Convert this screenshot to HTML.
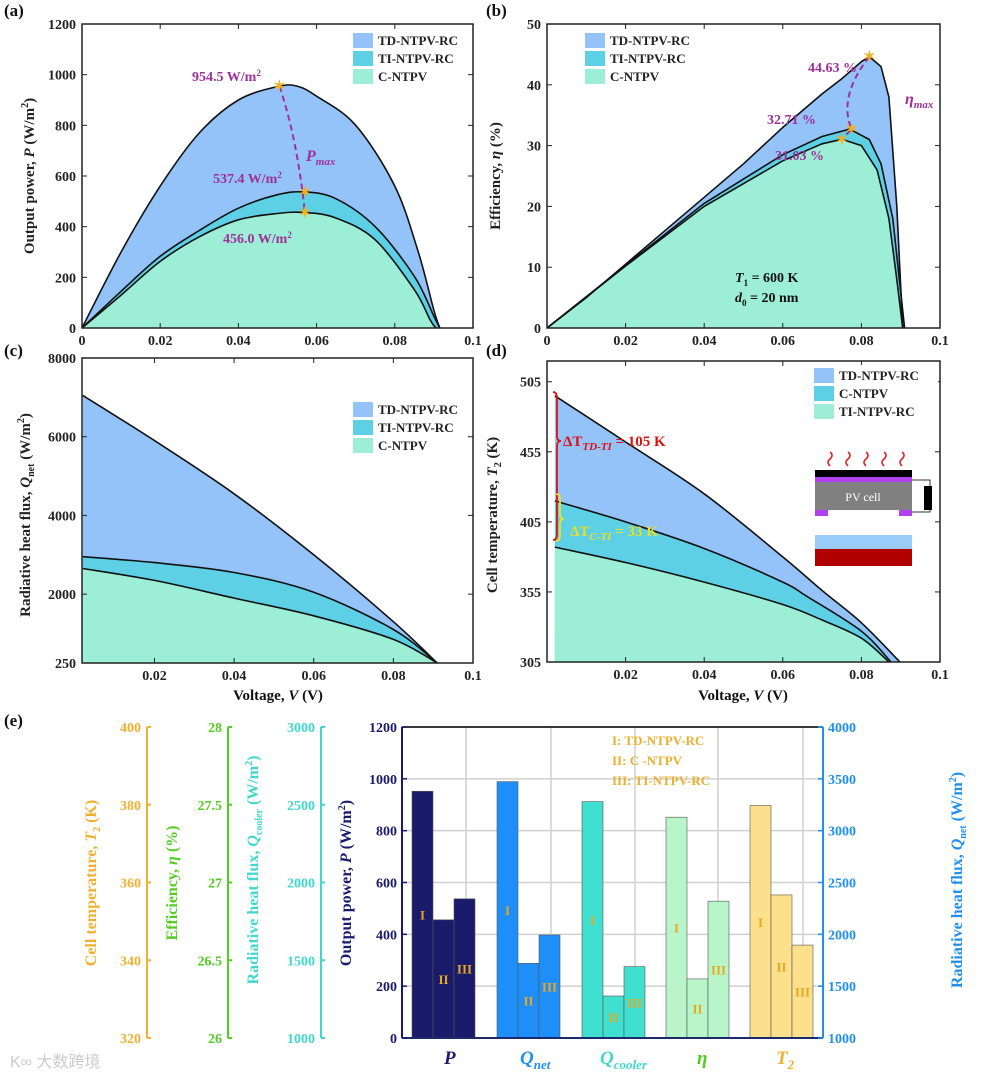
<!DOCTYPE html>
<html><head><meta charset="utf-8"><style>
body{margin:0;background:#fff}
svg{display:block;font-family:"Liberation Serif",serif;font-weight:bold}
</style></head><body>
<svg id="fig" width="983" height="1082" viewBox="0 0 983 1082" xmlns="http://www.w3.org/2000/svg"></svg>
<script>
// ---------- data ----------
const aV_TD=[0,0.01,0.02,0.03,0.04,0.05,0.055,0.06,0.07,0.08,0.086,0.09,0.0915];
const aP_TD=[0,300,560,770,900,953,955,915,800,560,300,70,0];
const aV_TI=[0,0.01,0.02,0.03,0.04,0.05,0.057,0.065,0.075,0.085,0.09,0.0915];
const aP_TI=[0,145,283,385,473,526,537,510,400,204,46,0];
const aV_C=[0,0.01,0.02,0.03,0.04,0.05,0.057,0.065,0.075,0.085,0.089,0.0905];
const aP_C=[0,130,263,360,427,452,456,434,348,151,33,0];
const bV_TD=[0,0.01,0.02,0.03,0.04,0.05,0.06,0.07,0.075,0.08,0.082,0.085,0.087,0.089,0.0905];
const bE_TD=[0,5,10.5,16,21.5,27,33,38.5,41,43.8,44.63,43,38,20,0];
const bV_TI=[0,0.02,0.04,0.06,0.07,0.077,0.082,0.085,0.088,0.091];
const bE_TI=[0,10.3,20.5,28.5,31.5,32.71,31,27,18,0];
const bV_C=[0,0.02,0.04,0.06,0.07,0.075,0.08,0.084,0.087,0.089,0.0905];
const bE_C=[0,10.2,20,27.5,30.3,31.03,30,26,18,8,0];
const cV_TD=[0.002,0.02,0.04,0.06,0.08,0.091];
const cQ_TD=[7050,5900,4550,3000,1300,250];
const cV_TI=[0.002,0.02,0.04,0.06,0.08,0.091];
const cQ_TI=[2950,2800,2550,2050,1100,250];
const cV_C=[0.002,0.02,0.04,0.06,0.08,0.091];
const cQ_C=[2650,2350,1900,1450,850,250];
const dV_TD=[0.002,0.02,0.04,0.06,0.07,0.08,0.0898];
const dT_TD=[495,462,425,380,356,333,305];
const dV_C=[0.002,0.02,0.04,0.06,0.066,0.08,0.0875];
const dT_C=[420,405,386,362,352,327,305];
const dV_TI=[0.002,0.02,0.04,0.06,0.07,0.08,0.087];
const dT_TI=[387,376,362,346,335,322,305];
const eGroups=["P","Qnet","Qcooler","eta","T2"];
const eP=[952,456,537];
const eQnet=[3473,1720,1994];
const eQcool=[2520,1270,1459];
const eEta=[27.42,26.38,26.88];
const eT2=[379.8,356.8,343.9];
const xTicks=[0,0.02,0.04,0.06,0.08,0.1];
const xTicksC=[0.02,0.04,0.06,0.08,0.1];
const aYTicks=[0,200,400,600,800,1000,1200];
const bYTicks=[0,10,20,30,40,50];
const cYTicks=[250,2000,4000,6000,8000];
const dYTicks=[305,355,405,455,505];
const ePTicks=[0,200,400,600,800,1000,1200];
const eQTicks=[1000,1500,2000,2500,3000,3500,4000];
const eCoolTicks=[1000,1500,2000,2500,3000];
const eEtaTicks=[26,26.5,27,27.5,28];
const eT2Ticks=[320,340,360,380,400];

// ---------- helpers ----------
const NS="http://www.w3.org/2000/svg";
const svg=document.getElementById('fig');
function el(tag,attrs,parent,text){const e=document.createElementNS(NS,tag);for(const k in attrs)e.setAttribute(k,attrs[k]);if(text!==undefined)e.textContent=text;(parent||svg).appendChild(e);return e;}
function lin(d0,d1,r0,r1){return v=>r0+(v-d0)/(d1-d0)*(r1-r0);}
const COL_TD="#93c3f8",COL_TI="#5dd0e6",COL_C="#9deed6";

function curve(xs,ys,sx,sy,smooth){
  const P=xs.map((x,i)=>[sx(x),sy(ys[i])]);
  let d="";
  if(!smooth){P.forEach((p,i)=>{d+=(i?" L":"")+p[0].toFixed(1)+","+p[1].toFixed(1);});return d;}
  d=P[0][0].toFixed(1)+","+P[0][1].toFixed(1);
  for(let i=0;i<P.length-1;i++){const p0=P[Math.max(i-1,0)],p1=P[i],p2=P[i+1],p3=P[Math.min(i+2,P.length-1)];
    const t=1/6;const c1=[p1[0]+(p2[0]-p0[0])*t,p1[1]+(p2[1]-p0[1])*t],c2=[p2[0]-(p3[0]-p1[0])*t,p2[1]-(p3[1]-p1[1])*t];
    d+=` C${c1[0].toFixed(1)},${c1[1].toFixed(1)} ${c2[0].toFixed(1)},${c2[1].toFixed(1)} ${p2[0].toFixed(1)},${p2[1].toFixed(1)}`;}
  return d;}
function areaPath(xs,ys,sx,sy,y0,sm){return "M"+sx(xs[0])+","+y0+" L"+curve(xs,ys,sx,sy,sm)+" L"+sx(xs[xs.length-1])+","+y0+"Z";}
function linePath(xs,ys,sx,sy,sm){return "M"+curve(xs,ys,sx,sy,sm);}

function frame(g,x0,x1,y0,y1,sx,sy,xt,yt,xfmt,yfmt,showX){
  const f=el('rect',{x:x0,y:y0,width:x1-x0,height:y1-y0,fill:"none",stroke:"#222","stroke-width":1.5},g);
  
  
  xt.forEach(v=>{const X=sx(v);
    el('line',{x1:X,x2:X,y1:y1,y2:y1-5,stroke:"#222"},g);el('line',{x1:X,x2:X,y1:y0,y2:y0+5,stroke:"#222"},g);
    if(showX){const t=el('text',{x:X,y:y1+17,"text-anchor":"middle","font-size":14,fill:"#222"},g,xfmt(v));}});
  yt.forEach(v=>{const Y=sy(v);
    el('line',{x1:x0,x2:x0+5,y1:Y,y2:Y,stroke:"#222"},g);el('line',{x1:x1,x2:x1-5,y1:Y,y2:Y,stroke:"#222"},g);
    const t=el('text',{x:x0-6,y:Y+5,"text-anchor":"end","font-size":14,fill:"#222"},g,yfmt(v));});
}
function legend(g,x,y,items){items.forEach((it,i)=>{
  const r=el('rect',{x:x,y:y+i*18-7,width:20,height:15,fill:it[1]},g);
  const t=el('text',{x:x+25,y:y+i*18+5,"font-size":13,fill:"#222"},g,it[0]);});}
function vtitle(g,x,y,html,color,size){const t=el('text',{x:0,y:0,transform:`translate(${x},${y}) rotate(-90)`,"text-anchor":"middle","font-size":size||15,fill:color||"#222"},g);t.innerHTML=html;return t;}
function star(g,x,y){const s=el('text',{x:x,y:y+5,"text-anchor":"middle","font-size":15,fill:"#f0b020"},g,"✶");}
const fx=v=>v===0?"0":(v===0.1?"0.1":v.toFixed(2));

function panelLabel(x,y,t){const e=el('text',{x:x,y:y,"font-size":17,fill:"#111"},svg,t);}

// ---------- panel a ----------
(function(){
 const g=el('g',{});  
 const x0=82,x1=473,y0=24,y1=328;const sx=lin(0,0.1,x0,x1),sy=lin(0,1200,y1,y0);
 [[aV_TD,aP_TD,COL_TD],[aV_TI,aP_TI,COL_TI],[aV_C,aP_C,COL_C]].forEach(s=>{const p=el('path',{d:areaPath(s[0],s[1],sx,sy,y1,true),fill:s[2]},g);});
 [[aV_TD,aP_TD],[aV_TI,aP_TI],[aV_C,aP_C]].forEach(s=>el('path',{d:linePath(s[0],s[1],sx,sy,true),fill:"none",stroke:"#111","stroke-width":1.6},g));
 frame(g,x0,x1,y0,y1,sx,sy,xTicks,aYTicks,fx,v=>v,true);
 legend(g,353,40,[["TD-NTPV-RC",COL_TD],["TI-NTPV-RC",COL_TI],["C-NTPV",COL_C]]);
 vtitle(g,34,176,'Output power, <tspan font-style="italic">P</tspan> (W/m<tspan dy="-6" font-size="10">2</tspan><tspan dy="6">)</tspan>');
 el('path',{d:`M${sx(0.0505)},${sy(954.5)} Q${sx(0.055)},${sy(750)} ${sx(0.057)},${sy(456)}`,fill:"none",stroke:"#a0309a","stroke-width":2,"stroke-dasharray":"6,4"},g);
 star(g,sx(0.0505),sy(954.5));star(g,sx(0.057),sy(537.4));star(g,sx(0.057),sy(456));
 const c="#a0309a";
 el('text',{x:192,y:81,"font-size":14,fill:c},g).innerHTML='954.5 W/m<tspan dy="-5" font-size="9">2</tspan>';
 el('text',{x:213,y:183,"font-size":14,fill:c},g).innerHTML='537.4 W/m<tspan dy="-5" font-size="9">2</tspan>';
 el('text',{x:223,y:243,"font-size":14,fill:c},g).innerHTML='456.0 W/m<tspan dy="-5" font-size="9">2</tspan>';
 el('text',{x:306,y:161,"font-size":16,fill:c,"font-style":"italic"},g).innerHTML='P<tspan dy="4" font-size="11">max</tspan>';
})();
panelLabel(4,16,"(a)");

// ---------- panel b ----------
(function(){
 const g=el('g',{});  
 const x0=547,x1=940,y0=24,y1=328;const sx=lin(0,0.1,x0,x1),sy=lin(0,50,y1,y0);
 [[bV_TD,bE_TD,COL_TD],[bV_TI,bE_TI,COL_TI],[bV_C,bE_C,COL_C]].forEach(s=>{const p=el('path',{d:areaPath(s[0],s[1],sx,sy,y1,false),fill:s[2]},g);});
 [[bV_TD,bE_TD],[bV_TI,bE_TI],[bV_C,bE_C]].forEach(s=>el('path',{d:linePath(s[0],s[1],sx,sy,false),fill:"none",stroke:"#111","stroke-width":1.6},g));
 frame(g,x0,x1,y0,y1,sx,sy,xTicks,bYTicks,fx,v=>v,true);
 legend(g,585,40,[["TD-NTPV-RC",COL_TD],["TI-NTPV-RC",COL_TI],["C-NTPV",COL_C]]);
 vtitle(g,500,176,'Efficiency, <tspan font-style="italic">η</tspan> (%)');
 const c="#a0309a";
 el('path',{d:`M${sx(0.082)},${sy(44.63)} Q${sx(0.074)},${sy(38)} ${sx(0.0775)},${sy(32.71)} L${sx(0.075)},${sy(31.03)}`,fill:"none",stroke:c,"stroke-width":2,"stroke-dasharray":"6,4"},g);
 star(g,sx(0.082),sy(44.63));star(g,sx(0.0775),sy(32.71));star(g,sx(0.075),sy(31.03));
 el('text',{x:808,y:72,"font-size":14,fill:c},g,"44.63 %");
 el('text',{x:767,y:124,"font-size":14,fill:c},g,"32.71 %");
 el('text',{x:775,y:160,"font-size":14,fill:c},g,"31.03 %");
 el('text',{x:905,y:104,"font-size":16,fill:c,"font-style":"italic"},g).innerHTML='η<tspan dy="4" font-size="11">max</tspan>';
 el('text',{x:735,y:282,"font-size":14,fill:"#111"},g).innerHTML='<tspan font-style="italic">T</tspan><tspan dy="4" font-size="9">1</tspan><tspan dy="-4"> = 600 K</tspan>';
 el('text',{x:735,y:302,"font-size":14,fill:"#111"},g).innerHTML='<tspan font-style="italic">d</tspan><tspan dy="4" font-size="9">0</tspan><tspan dy="-4"> = 20 nm</tspan>';
})();
panelLabel(486,16,"(b)");

// ---------- panel c ----------
(function(){
 const g=el('g',{});  
 const x0=82,x1=473,y0=358,y1=663;const sx=lin(0.0018,0.1,x0,x1),sy=lin(250,8000,y1,y0);
 [[cV_TD,cQ_TD,COL_TD],[cV_TI,cQ_TI,COL_TI],[cV_C,cQ_C,COL_C]].forEach(s=>{const p=el('path',{d:areaPath(s[0],s[1],sx,sy,y1,true),fill:s[2]},g);});
 [[cV_TD,cQ_TD],[cV_TI,cQ_TI],[cV_C,cQ_C]].forEach(s=>el('path',{d:linePath(s[0],s[1],sx,sy,true),fill:"none",stroke:"#111","stroke-width":1.6},g));
 frame(g,x0,x1,y0,y1,sx,sy,xTicksC,cYTicks,fx,v=>v,true);
 legend(g,353,409,[["TD-NTPV-RC",COL_TD],["TI-NTPV-RC",COL_TI],["C-NTPV",COL_C]]);
 vtitle(g,30,515,'Radiative heat flux, <tspan font-style="italic">Q</tspan><tspan dy="4" font-size="10">net</tspan><tspan dy="-4"> (W/m</tspan><tspan dy="-6" font-size="10">2</tspan><tspan dy="6">)</tspan>');
 el('text',{x:278,y:700,"text-anchor":"middle","font-size":15,fill:"#111"},g).innerHTML='Voltage, <tspan font-style="italic">V</tspan> (V)';
})();
panelLabel(4,356,"(c)");

// ---------- panel d ----------
(function(){
 const g=el('g',{});  
 const x0=547,x1=940,y0=361,y1=662;const sx=lin(0,0.1,x0,x1),sy=lin(305,519.8,y1,y0);
 [[dV_TD,dT_TD,COL_TD],[dV_C,dT_C,COL_TI],[dV_TI,dT_TI,COL_C]].forEach(s=>{const p=el('path',{d:areaPath(s[0],s[1],sx,sy,y1,true),fill:s[2]},g);});
 [[dV_TD,dT_TD],[dV_C,dT_C],[dV_TI,dT_TI]].forEach(s=>el('path',{d:linePath(s[0],s[1],sx,sy,true),fill:"none",stroke:"#111","stroke-width":1.6},g));
 frame(g,x0,x1,y0,y1,sx,sy,xTicksC,dYTicks,fx,v=>v,true);
 el('rect',{x:810,y:365,width:128,height:60,fill:"#fff"},g);
 legend(g,814,375,[["TD-NTPV-RC",COL_TD],["C-NTPV",COL_TI],["TI-NTPV-RC",COL_C]]);
 vtitle(g,497,515,'Cell temperature, <tspan font-style="italic">T</tspan><tspan dy="4" font-size="10">2</tspan><tspan dy="-4"> (K)</tspan>');
 el('text',{x:743,y:700,"text-anchor":"middle","font-size":15,fill:"#111"},g).innerHTML='Voltage, <tspan font-style="italic">V</tspan> (V)';
 el('path',{d:"M553,392 Q557,392 557,398 L557,436 Q557,441 561,441 Q557,441 557,446 L557,534 Q557,540 553,540",fill:"none",stroke:"#e01010","stroke-width":1.8},g);
 el('text',{x:563,y:446,"font-size":15,fill:"#e01010"},g).innerHTML='ΔT<tspan dy="4" font-size="11" font-style="italic">TD-TI</tspan><tspan dy="-4"> = 105 K</tspan>';
 el('path',{d:"M556,494 Q560,494 560,499 L560,514 Q560,519 564,519 Q560,519 560,524 L560,535 Q560,541 556,541",fill:"none",stroke:"#f0e020","stroke-width":1.8},g);
 el('text',{x:570,y:536,"font-size":15,fill:"#e8e020"},g).innerHTML='ΔT<tspan dy="4" font-size="11" font-style="italic">C-TI</tspan><tspan dy="-4"> = 33 K</tspan>';
 const ins=el('g',{},g);
 [830,848,866,884,902].forEach(x=>el('path',{d:`M${x},452 q4,3 0,7 q-4,3 0,7`,fill:"none",stroke:"#e02020","stroke-width":1.6},ins));
 el('rect',{x:815,y:470,width:97,height:7,fill:"#000"},ins);
 el('rect',{x:815,y:477,width:97,height:5,fill:"#b040f0"},ins);
 el('rect',{x:815,y:482,width:97,height:28,fill:"#808080"},ins);
 el('rect',{x:815,y:510,width:13,height:6,fill:"#b040f0"},ins);
 el('rect',{x:899,y:510,width:13,height:6,fill:"#b040f0"},ins);
 el('text',{x:863,y:501,"text-anchor":"middle","font-size":12,"font-weight":"normal",fill:"#fff"},ins,"PV cell");
 el('path',{d:"M912,480 L930,480 L930,512 L912,512",fill:"none",stroke:"#333"},ins);
 el('rect',{x:924,y:486,width:8,height:24,fill:"#000"},ins);
 el('rect',{x:815,y:535,width:97,height:14,fill:"#99ccf8"},ins);
 el('rect',{x:815,y:549,width:97,height:17,fill:"#b00000"},ins);
})();
panelLabel(486,356,"(d)");

// ---------- panel e ----------
(function(){
 const g=el('g',{});  
 const x0=402,x1=823,y0=727,y1=1038;
 const sP=lin(0,1200,y1,y0),sQ=lin(1000,4000,y1,y0),sC=lin(1000,3000,y1,y0),sE=lin(26,28,y1,y0),sT=lin(320,400,y1,y0);
 [466,551,635,718,803].forEach(x=>el('line',{x1:x,x2:x,y1:y0,y2:y1,stroke:"#d0d0d0","stroke-width":1.5},g));
 ePTicks.forEach(v=>el('line',{x1:x0,x2:x1,y1:sP(v),y2:sP(v),stroke:"#d0d0d0","stroke-width":1.5},g));
 const series=[[eP,sP,"#1b1b6b"],[eQnet,sQ,"#1e8ef8"],[eQcool,sC,"#40e0d0"],[eEta,sE,"#b8f6ca"],[eT2,sT,"#fde08c"]];
 const starts=[412,497,582,666,750],bw=21,roman=["I","II","III"];
 series.forEach((s,gi)=>{s[0].forEach((v,i)=>{const bx=starts[gi]+i*bw,by=s[1](v);
   const r=el('rect',{x:bx,y:by,width:bw,height:y1-by,fill:s[2],stroke:"#555","stroke-width":0.6},g);
   
   
   el('text',{x:bx+bw/2,y:(by+y1)/2+5,"text-anchor":"middle","font-size":13,fill:"#e8a820"},g,roman[i]);});});
 el('line',{x1:x0,x2:x1,y1:y0,y2:y0,stroke:"#000","stroke-width":1.5},g);
 el('line',{x1:x0,x2:x1,y1:y1,y2:y1,stroke:"#1a2a6a","stroke-width":2},g);
 el('line',{x1:x0,x2:x0,y1:y0,y2:y1,stroke:"#1a1a6e","stroke-width":2},g);
 el('line',{x1:x1,x2:x1,y1:y0,y2:y1,stroke:"#2090f0","stroke-width":2},g);
 ePTicks.forEach(v=>{el('line',{x1:x0,x2:x0+5,y1:sP(v),y2:sP(v),stroke:"#1a1a6e","stroke-width":1.5},g);
   el('text',{x:x0-5,y:sP(v)+5,"text-anchor":"end","font-size":14,fill:"#1a1a6e"},g,v);});
 eQTicks.forEach(v=>{el('line',{x1:x1,x2:x1-5,y1:sQ(v),y2:sQ(v),stroke:"#2090f0","stroke-width":1.5},g);
   el('text',{x:x1+5,y:sQ(v)+5,"font-size":14,fill:"#2090f0"},g,v);});
 function leftAxis(ax,ticks,sc,col,fmt){el('line',{x1:ax,x2:ax,y1:y0,y2:y1,stroke:col,"stroke-width":2},g);
   ticks.forEach(v=>{el('line',{x1:ax,x2:ax+4,y1:sc(v),y2:sc(v),stroke:col,"stroke-width":2},g);
   el('text',{x:ax-6,y:sc(v)+5,"text-anchor":"end","font-size":14,fill:col},g,fmt(v));});}
 leftAxis(147,eT2Ticks,sT,"#f0b030",v=>v);
 leftAxis(228,eEtaTicks,sE,"#55cc22",v=>v);
 leftAxis(321,eCoolTicks,sC,"#40d8cc",v=>v);
 vtitle(g,96,883,'Cell temperature, <tspan font-style="italic">T</tspan><tspan dy="4" font-size="10">2</tspan><tspan dy="-4"> (K)</tspan>',"#f0b030",16);
 vtitle(g,177,883,'Efficiency, <tspan font-style="italic">η</tspan> (%)',"#55cc22",16);
 vtitle(g,258,870,'Radiative heat flux, <tspan font-style="italic">Q</tspan><tspan dy="4" font-size="10">cooler</tspan><tspan dy="-4"> (W/m</tspan><tspan dy="-6" font-size="10">2</tspan><tspan dy="6">)</tspan>',"#40d8cc",16);
 vtitle(g,351,883,'Output power, <tspan font-style="italic">P</tspan> (W/m<tspan dy="-6" font-size="10">2</tspan><tspan dy="6">)</tspan>',"#1a1a6e",16);
 vtitle(g,962,880,'Radiative heat flux, <tspan font-style="italic">Q</tspan><tspan dy="4" font-size="10">net</tspan><tspan dy="-4"> (W/m</tspan><tspan dy="-6" font-size="10">2</tspan><tspan dy="6">)</tspan>',"#2090f0",16);
 const lc="#e8b030";
 el('text',{x:612,y:745,"font-size":13,fill:lc,"xml:space":"preserve"},g,"I:    TD-NTPV-RC");
 el('text',{x:612,y:765,"font-size":13,fill:lc},g,"II: C  -NTPV");
 el('text',{x:612,y:785,"font-size":13,fill:lc},g,"III: TI-NTPV-RC");
 const gl=[[444,'P',"#1a1a6e",""],[520,'Q',"#1e8ef8","net"],[600,'Q',"#40d8cc","cooler"],[697,'η',"#55cc22",""],[776,'T',"#f0b030","2"]];
 gl.forEach(l=>{const t=el('text',{x:l[0],y:1064,"font-size":19,"font-style":"italic",fill:l[2]},g);
   t.innerHTML=l[1]+(l[3]?`<tspan dy="5" font-size="13">${l[3]}</tspan>`:"");
   });
 el('text',{x:10,y:1067,"font-size":16,"font-weight":"normal",fill:"#ccc","font-family":"Liberation Sans, Noto Sans CJK SC, sans-serif"},g,"K∞ 大数跨境");
})();
panelLabel(4,726,"(e)");
</script>
</body></html>
